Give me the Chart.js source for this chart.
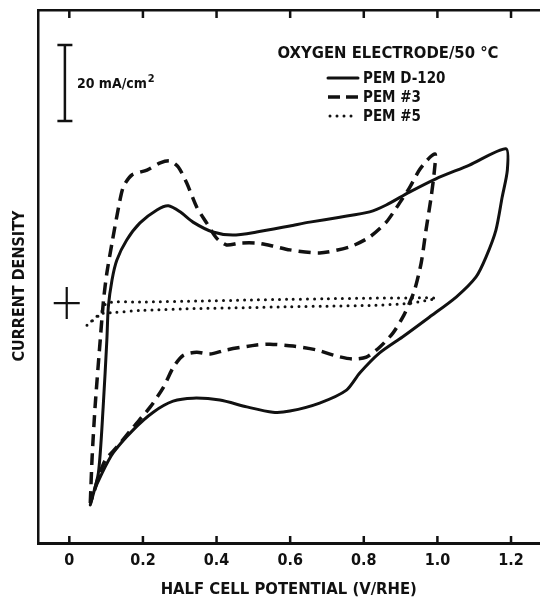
<!DOCTYPE html>
<html>
<head>
<meta charset="utf-8">
<script src="https://cdn.jsdelivr.net/npm/chart.js@4.4.1/dist/chart.umd.min.js"></script>
<style>
  html, body { margin: 0; padding: 0; background: #fff; }
  #wrap { width: 540px; height: 598px; }
</style>
</head>
<body>
<div id="wrap"><canvas id="cv" width="540" height="598"></canvas></div>
<script>
// Cyclic voltammograms, oxygen electrode at 50 °C
// potential in V vs RHE, current density in mA/cm²

const xTickValues = [0, 0.2, 0.4, 0.6, 0.8, 1.0, 1.2];
const xTickLabels = ['0', '0.2', '0.4', '0.6', '0.8', '1.0', '1.2'];

const seriesNames = ['PEM D-120', 'PEM #3', 'PEM #5'];

// PEM D-120 (solid)
const potD120 = [0.057, 0.079, 0.092, 0.102, 0.106, 0.116, 0.129, 0.156, 0.192, 0.238, 0.269, 0.301, 0.336,
  0.390, 0.444, 0.509, 0.599, 0.653, 0.735, 0.816, 0.861, 0.924, 0.996, 1.087, 1.186,
  1.190, 1.176, 1.159, 1.132, 1.105, 1.051, 0.978, 0.905, 0.843, 0.789, 0.753, 0.680, 0.599,
  0.553, 0.482, 0.409, 0.336, 0.282, 0.228, 0.173, 0.119, 0.089, 0.065, 0.057];
const curD120 = [-52.6, -44.2, -26.8, -9.2, -0.5, 6.6, 11.8, 17.1, 21.6, 25.0, 26.1, 24.5, 21.8,
  19.2, 18.4, 19.2, 20.8, 21.8, 23.1, 24.5, 26.3, 29.7, 33.2, 36.8, 41.1,
  35.5, 28.4, 19.7, 12.6, 7.4, 2.1, -3.2, -8.4, -12.6, -17.9, -22.4, -25.8, -27.9,
  -28.2, -26.8, -25.0, -24.5, -25.3, -28.2, -32.9, -38.9, -44.2, -49.5, -52.6];

// PEM #3 (dashed)
const potPem3 = [0.057, 0.062, 0.070, 0.084, 0.093, 0.102, 0.116, 0.134, 0.147, 0.170, 0.211, 0.247, 0.274,
  0.296, 0.319, 0.346, 0.373, 0.400, 0.427, 0.463, 0.509, 0.554, 0.599, 0.680, 0.762, 0.816,
  0.861, 0.897, 0.924, 0.951, 0.978, 0.994,
  0.992, 0.983, 0.969, 0.956, 0.938, 0.924, 0.906, 0.879, 0.843, 0.807, 0.770, 0.725, 0.671,
  0.608, 0.545, 0.509, 0.427, 0.382, 0.346, 0.310, 0.283, 0.256, 0.220, 0.174, 0.129, 0.098,
  0.079, 0.066, 0.057];
const curPem3 = [-52.1, -40.0, -26.8, -9.2, 1.3, 8.4, 16.3, 25.8, 31.1, 34.2, 35.5, 37.4, 37.9,
  36.3, 32.1, 25.8, 21.6, 17.6, 15.8, 16.3, 16.3, 15.5, 14.5, 13.7, 15.3, 17.9,
  21.8, 26.8, 30.8, 35.5, 38.7, 39.7,
  35.5, 28.4, 19.7, 11.1, 3.9, 0.5, -3.2, -7.4, -11.1, -13.7, -14.2, -13.4, -11.8,
  -10.8, -10.3, -10.5, -11.8, -12.9, -12.4, -13.2, -16.3, -21.6, -26.8, -32.1, -37.4, -40.8,
  -45.3, -49.5, -52.1];

// PEM #5 (dotted)
const potPem5 = [0.048, 0.084, 0.102, 0.200, 0.355, 0.480, 0.599, 0.700, 0.816, 0.920, 0.996,
  0.924, 0.816, 0.700, 0.599, 0.480, 0.355, 0.200, 0.119, 0.084, 0.048];
const curPem5 = [-5.3, -2.4, 0.5, 0.8, 1.05, 1.3, 1.5, 1.65, 1.8, 1.85, 1.8,
  0.45, -0.1, -0.3, -0.45, -0.7, -0.9, -1.4, -2.0, -2.4, -5.3];

// 20 mA/cm² scale bar and the zero-current cross
const scaleBarPot = -0.012;
const scaleBarCur = [48.4, 68.4];
const zeroMark = { pot: -0.007, cur: 0.5 };

const xRange = [-0.0837, 1.276];
const yRange = [-62.6, 77.6];

const FONT = "'DejaVu Sans Condensed', 'DejaVu Sans', sans-serif";
const INK = '#111';

const toPoints = (xs, ys) => xs.map((v, i) => ({ x: v, y: ys[i] }));

const lineStyles = [
  { borderWidth: 3, borderDash: [], borderCapStyle: 'round' },
  { borderWidth: 3.5, borderDash: [12, 7], borderCapStyle: 'butt' },
  { borderWidth: 3, borderDash: [0, 7], borderCapStyle: 'round' }
];

const decor = {
  id: 'decor',
  afterDraw(chart) {
    const { ctx, chartArea: a } = chart;
    const xs = chart.scales.x, ys = chart.scales.y;
    ctx.save();
    ctx.strokeStyle = INK;
    ctx.fillStyle = INK;

    // inward tick marks on bottom and top frame
    ctx.lineWidth = 2.5;
    ctx.lineCap = 'butt';
    xTickValues.forEach(v => {
      const px = xs.getPixelForValue(v);
      ctx.beginPath();
      ctx.moveTo(px, a.bottom); ctx.lineTo(px, a.bottom - 7);
      ctx.moveTo(px, a.top); ctx.lineTo(px, a.top + 8);
      ctx.stroke();
    });

    // y-axis title, rotated
    ctx.save();
    ctx.translate(20, 286);
    ctx.rotate(-Math.PI / 2);
    ctx.font = 'bold 16px ' + FONT;
    ctx.textAlign = 'center';
    ctx.textBaseline = 'middle';
    ctx.fillText('CURRENT DENSITY', 0, 0);
    ctx.restore();

    // scale bar
    const bx = xs.getPixelForValue(scaleBarPot);
    const b0 = ys.getPixelForValue(scaleBarCur[0]);
    const b1 = ys.getPixelForValue(scaleBarCur[1]);
    ctx.lineWidth = 2.5;
    ctx.beginPath();
    ctx.moveTo(bx, b0); ctx.lineTo(bx, b1);
    ctx.moveTo(bx - 7.5, b0); ctx.lineTo(bx + 7.5, b0);
    ctx.moveTo(bx - 7.5, b1); ctx.lineTo(bx + 7.5, b1);
    ctx.stroke();
    ctx.font = 'bold 14px ' + FONT;
    ctx.textBaseline = 'alphabetic';
    ctx.textAlign = 'left';
    const lblY = (b0 + b1) / 2 + 5;
    ctx.fillText('20 mA/cm', bx + 12, lblY);
    const w = ctx.measureText('20 mA/cm').width;
    ctx.font = 'bold 11px ' + FONT;
    ctx.fillText('2', bx + 12 + w + 1, lblY - 6);

    // zero cross
    const zx = xs.getPixelForValue(zeroMark.pot);
    const zy = ys.getPixelForValue(zeroMark.cur);
    ctx.lineWidth = 2.2;
    ctx.beginPath();
    ctx.moveTo(zx - 13, zy); ctx.lineTo(zx + 13, zy);
    ctx.moveTo(zx, zy - 16); ctx.lineTo(zx, zy + 16);
    ctx.stroke();

    // legend
    ctx.font = 'bold 16.5px ' + FONT;
    ctx.textAlign = 'center';
    ctx.textBaseline = 'middle';
    ctx.fillText('OXYGEN ELECTRODE/50 °C', 388, 54);
    ctx.font = 'bold 15px ' + FONT;
    ctx.textAlign = 'left';
    const rows = [78, 97, 116];
    seriesNames.forEach((name, i) => {
      const st = lineStyles[i];
      ctx.save();
      ctx.lineWidth = st.borderWidth;
      ctx.setLineDash(i === 1 ? [12, 6] : st.borderDash);
      ctx.lineCap = st.borderCapStyle;
      ctx.beginPath();
      ctx.moveTo(i === 2 ? 330 : 328, rows[i]);
      ctx.lineTo(358, rows[i]);
      ctx.stroke();
      ctx.restore();
      ctx.fillText(name, 363, rows[i] + 1);
    });
    ctx.restore();
  }
};

new Chart(document.getElementById('cv'), {
  type: 'scatter',
  data: {
    datasets: [
      { label: seriesNames[0], data: toPoints(potD120, curD120) },
      { label: seriesNames[1], data: toPoints(potPem3, curPem3) },
      { label: seriesNames[2], data: toPoints(potPem5, curPem5) }
    ].map((d, i) => Object.assign(d, lineStyles[i], {
      showLine: true,
      borderColor: INK,
      pointRadius: 0,
      tension: 0.25,
      borderJoinStyle: 'round',
      clip: false
    }))
  },
  plugins: [decor],
  options: {
    responsive: false,
    devicePixelRatio: 1,
    animation: false,
    layout: { padding: { left: 0, right: 1, top: 0, bottom: 0 } },
    plugins: { legend: { display: false }, tooltip: { enabled: false } },
    scales: {
      x: {
        type: 'linear',
        position: 'bottom',
        min: xRange[0],
        max: xRange[1],
        afterBuildTicks: s => { s.ticks = xTickValues.map(v => ({ value: v })); },
        afterFit: s => { s.height = 55; },
        ticks: {
          padding: 8,
          color: INK,
          font: { family: FONT, size: 16, weight: 'bold' },
          callback: (v) => xTickLabels[xTickValues.indexOf(v)] ?? ''
        },
        grid: { display: false, drawTicks: false },
        border: { display: true, width: 3, color: INK },
        title: {
          display: true,
          text: 'HALF CELL POTENTIAL (V/RHE)',
          color: INK,
          font: { family: FONT, size: 16.5, weight: 'bold', lineHeight: 1 },
          padding: { top: 0, bottom: 0 }
        }
      },
      xTop: {
        type: 'linear',
        position: 'top',
        min: xRange[0],
        max: xRange[1],
        afterFit: s => { s.height = 10; },
        ticks: { display: false },
        grid: { display: false, drawTicks: false },
        border: { display: true, width: 2.5, color: INK }
      },
      y: {
        type: 'linear',
        position: 'left',
        min: yRange[0],
        max: yRange[1],
        afterFit: s => { s.width = 38.5; },
        ticks: { display: false },
        grid: { display: false, drawTicks: false },
        border: { display: true, width: 2.5, color: INK }
      }
    }
  }
});
</script>
</body>
</html>
